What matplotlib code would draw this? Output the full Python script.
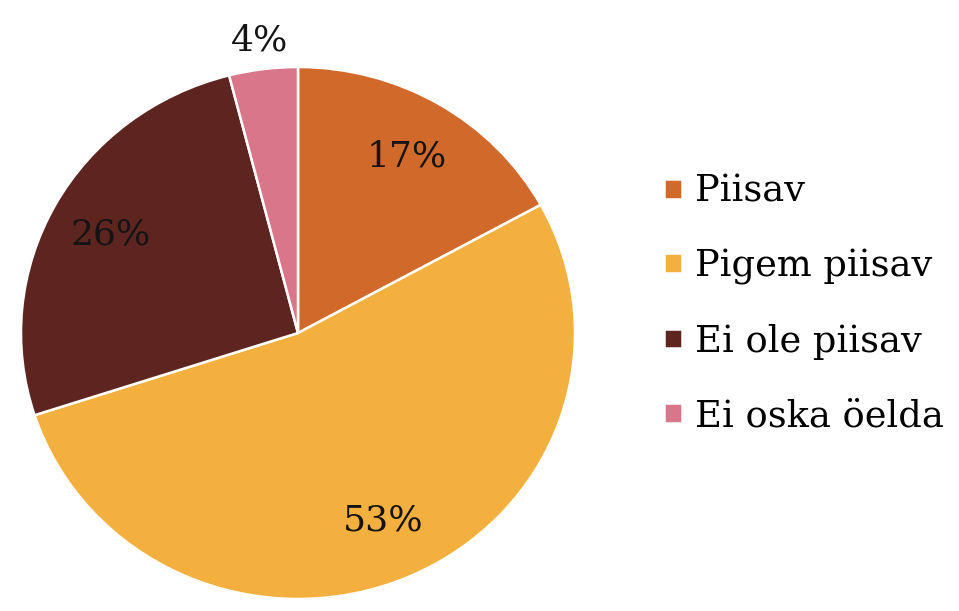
import numpy as np
import matplotlib
matplotlib.use("Agg")
import matplotlib.pyplot as plt

categories = ["Piisav", "Pigem piisav", "Ei ole piisav", "Ei oska öelda"]
values = [17, 53, 26, 4]
colors = ["#D0692A", "#F4B03E", "#5E2520", "#D97689"]

plt.rcParams['font.family'] = ['DejaVu Serif']

fig = plt.figure(figsize=(9.59, 6.11), dpi=100)
W, H = 959, 611
cx, cy, rx, ry = 298, 333, 277, 266
ax = fig.add_axes([(cx - rx) / W, (H - cy - ry) / H, 2 * rx / W, 2 * ry / H])

wedges, _ = ax.pie(values, colors=colors, startangle=90, counterclock=False,
                   radius=1.0,
                   wedgeprops=dict(edgecolor="white", linewidth=1.8))
ax.set_aspect('auto')
ax.set_xlim(-1, 1)
ax.set_ylim(-1, 1)

for w, v in zip(wedges, values):
    mid = np.deg2rad((w.theta1 + w.theta2) / 2)
    r = 0.77 if v >= 10 else 1.11
    ax.text(r * np.cos(mid), r * np.sin(mid), f"{v}%", ha="center", va="center",
            fontsize=26, color="#141414", clip_on=False)

fig.legend(wedges, categories, loc="center left",
           bbox_to_anchor=(664 / W, (H - 304) / H),
           frameon=False, fontsize=26.5, handlelength=0.5, handleheight=0.45,
           handletextpad=0.35, labelspacing=1.05, borderpad=0, borderaxespad=0)

fig.savefig("out.png", dpi=100)
